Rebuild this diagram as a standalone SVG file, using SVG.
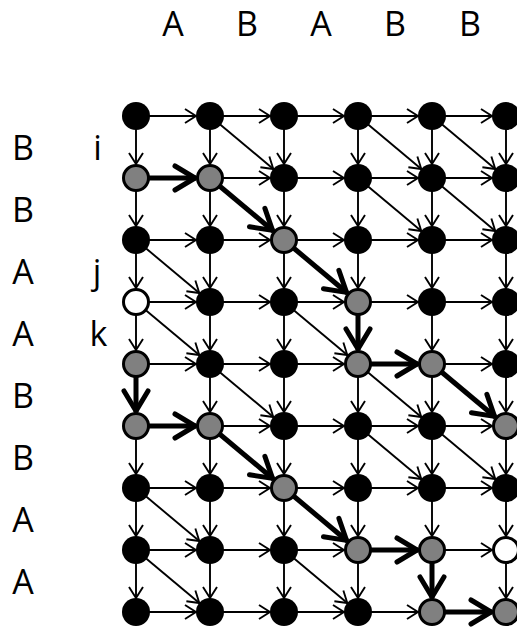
<svg xmlns="http://www.w3.org/2000/svg" width="517" height="627" viewBox="0 0 517 627">
  <style>
    .lbl { font-family: "Open Sans", "Liberation Sans", sans-serif; font-size: 34px; fill: #000; text-anchor: middle; }
    .e { stroke: #000; stroke-width: 1.9; fill: none; marker-end: url(#thin); }
    .h { stroke: #000; stroke-width: 5; fill: none; marker-end: url(#thick); }
    .nb { fill: #000; }
    .ng { fill: #808080; stroke: #000; stroke-width: 3; }
    .nw { fill: #fff; stroke: #000; stroke-width: 3; }
  </style>
  <defs>
    <marker id="thin" markerUnits="userSpaceOnUse" markerWidth="30" markerHeight="30" viewBox="-15 -15 30 30" refX="0" refY="0" orient="auto" overflow="visible">
      <path d="M-11,-7 L0,0 L-11,7" fill="none" stroke="#000" stroke-width="1.9"/>
    </marker>
    <marker id="thick" markerUnits="userSpaceOnUse" markerWidth="60" markerHeight="60" viewBox="-30 -30 60 60" refX="0" refY="0" orient="auto" overflow="visible">
      <path d="M-21,-12 L-1,0 L-21,12" fill="none" stroke="#000" stroke-width="5" stroke-linejoin="round" stroke-linecap="round"/>
    </marker>
  </defs>

  <!-- sequence labels -->
  <g id="labels">
    <text class="lbl" x="173" y="36">A</text>
    <text class="lbl" x="247" y="36">B</text>
    <text class="lbl" x="321" y="36">A</text>
    <text class="lbl" x="395" y="36">B</text>
    <text class="lbl" x="470" y="36">B</text>
    <text class="lbl" x="23" y="160">B</text>
    <text class="lbl" x="23" y="222">B</text>
    <text class="lbl" x="23" y="284">A</text>
    <text class="lbl" x="23" y="346">A</text>
    <text class="lbl" x="23" y="408">B</text>
    <text class="lbl" x="23" y="470">B</text>
    <text class="lbl" x="23" y="532">A</text>
    <text class="lbl" x="23" y="594">A</text>
    <text class="lbl" x="97.5" y="160">i</text>
    <text class="lbl" x="97" y="284">j</text>
    <text class="lbl" x="98.5" y="346">k</text>
  </g>

  <g id="connectors">
    <!-- horizontal edges -->
    <line class="e" x1="136" y1="116" x2="196" y2="116"/>
    <line class="e" x1="210" y1="116" x2="270" y2="116"/>
    <line class="e" x1="284" y1="116" x2="344" y2="116"/>
    <line class="e" x1="358" y1="116" x2="418" y2="116"/>
    <line class="e" x1="432" y1="116" x2="492" y2="116"/>

    <line class="e" x1="210" y1="178" x2="270" y2="178"/>
    <line class="e" x1="284" y1="178" x2="344" y2="178"/>
    <line class="e" x1="358" y1="178" x2="418" y2="178"/>
    <line class="e" x1="432" y1="178" x2="492" y2="178"/>

    <line class="e" x1="136" y1="240" x2="196" y2="240"/>
    <line class="e" x1="210" y1="240" x2="270" y2="240"/>
    <line class="e" x1="284" y1="240" x2="344" y2="240"/>
    <line class="e" x1="358" y1="240" x2="418" y2="240"/>
    <line class="e" x1="432" y1="240" x2="492" y2="240"/>

    <line class="e" x1="136" y1="302" x2="196" y2="302"/>
    <line class="e" x1="210" y1="302" x2="270" y2="302"/>
    <line class="e" x1="284" y1="302" x2="344" y2="302"/>
    <line class="e" x1="358" y1="302" x2="418" y2="302"/>
    <line class="e" x1="432" y1="302" x2="492" y2="302"/>

    <line class="e" x1="136" y1="364" x2="196" y2="364"/>
    <line class="e" x1="210" y1="364" x2="270" y2="364"/>
    <line class="e" x1="284" y1="364" x2="344" y2="364"/>
    <line class="e" x1="432" y1="364" x2="492" y2="364"/>

    <line class="e" x1="210" y1="426" x2="270" y2="426"/>
    <line class="e" x1="284" y1="426" x2="344" y2="426"/>
    <line class="e" x1="358" y1="426" x2="418" y2="426"/>
    <line class="e" x1="432" y1="426" x2="492" y2="426"/>

    <line class="e" x1="136" y1="488" x2="196" y2="488"/>
    <line class="e" x1="210" y1="488" x2="270" y2="488"/>
    <line class="e" x1="284" y1="488" x2="344" y2="488"/>
    <line class="e" x1="358" y1="488" x2="418" y2="488"/>
    <line class="e" x1="432" y1="488" x2="492" y2="488"/>

    <line class="e" x1="136" y1="550" x2="196" y2="550"/>
    <line class="e" x1="210" y1="550" x2="270" y2="550"/>
    <line class="e" x1="284" y1="550" x2="344" y2="550"/>
    <line class="e" x1="432" y1="550" x2="492" y2="550"/>

    <line class="e" x1="136" y1="612" x2="196" y2="612"/>
    <line class="e" x1="210" y1="612" x2="270" y2="612"/>
    <line class="e" x1="284" y1="612" x2="344" y2="612"/>
    <line class="e" x1="358" y1="612" x2="418" y2="612"/>

    <!-- vertical edges -->
    <line class="e" x1="136" y1="116" x2="136" y2="164"/>
    <line class="e" x1="136" y1="178" x2="136" y2="226"/>
    <line class="e" x1="136" y1="240" x2="136" y2="288"/>
    <line class="e" x1="136" y1="302" x2="136" y2="350"/>
    <line class="e" x1="136" y1="426" x2="136" y2="474"/>
    <line class="e" x1="136" y1="488" x2="136" y2="536"/>
    <line class="e" x1="136" y1="550" x2="136" y2="598"/>

    <line class="e" x1="210" y1="116" x2="210" y2="164"/>
    <line class="e" x1="210" y1="178" x2="210" y2="226"/>
    <line class="e" x1="210" y1="240" x2="210" y2="288"/>
    <line class="e" x1="210" y1="302" x2="210" y2="350"/>
    <line class="e" x1="210" y1="364" x2="210" y2="412"/>
    <line class="e" x1="210" y1="426" x2="210" y2="474"/>
    <line class="e" x1="210" y1="488" x2="210" y2="536"/>
    <line class="e" x1="210" y1="550" x2="210" y2="598"/>

    <line class="e" x1="284" y1="116" x2="284" y2="164"/>
    <line class="e" x1="284" y1="178" x2="284" y2="226"/>
    <line class="e" x1="284" y1="240" x2="284" y2="288"/>
    <line class="e" x1="284" y1="302" x2="284" y2="350"/>
    <line class="e" x1="284" y1="364" x2="284" y2="412"/>
    <line class="e" x1="284" y1="426" x2="284" y2="474"/>
    <line class="e" x1="284" y1="488" x2="284" y2="536"/>
    <line class="e" x1="284" y1="550" x2="284" y2="598"/>

    <line class="e" x1="358" y1="116" x2="358" y2="164"/>
    <line class="e" x1="358" y1="178" x2="358" y2="226"/>
    <line class="e" x1="358" y1="240" x2="358" y2="288"/>
    <line class="e" x1="358" y1="364" x2="358" y2="412"/>
    <line class="e" x1="358" y1="426" x2="358" y2="474"/>
    <line class="e" x1="358" y1="488" x2="358" y2="536"/>
    <line class="e" x1="358" y1="550" x2="358" y2="598"/>

    <line class="e" x1="432" y1="116" x2="432" y2="164"/>
    <line class="e" x1="432" y1="178" x2="432" y2="226"/>
    <line class="e" x1="432" y1="240" x2="432" y2="288"/>
    <line class="e" x1="432" y1="302" x2="432" y2="350"/>
    <line class="e" x1="432" y1="364" x2="432" y2="412"/>
    <line class="e" x1="432" y1="426" x2="432" y2="474"/>
    <line class="e" x1="432" y1="488" x2="432" y2="536"/>

    <line class="e" x1="506" y1="116" x2="506" y2="164"/>
    <line class="e" x1="506" y1="178" x2="506" y2="226"/>
    <line class="e" x1="506" y1="240" x2="506" y2="288"/>
    <line class="e" x1="506" y1="302" x2="506" y2="350"/>
    <line class="e" x1="506" y1="364" x2="506" y2="412"/>
    <line class="e" x1="506" y1="426" x2="506" y2="474"/>
    <line class="e" x1="506" y1="488" x2="506" y2="536"/>
    <line class="e" x1="506" y1="550" x2="506" y2="598"/>

    <!-- diagonal (match) edges -->
    <line class="e" x1="210" y1="116" x2="273.3" y2="169"/>
    <line class="e" x1="358" y1="116" x2="421.3" y2="169"/>
    <line class="e" x1="432" y1="116" x2="495.3" y2="169"/>
    <line class="e" x1="358" y1="178" x2="421.3" y2="231"/>
    <line class="e" x1="432" y1="178" x2="495.3" y2="231"/>
    <line class="e" x1="136" y1="240" x2="199.3" y2="293"/>
    <line class="e" x1="136" y1="302" x2="199.3" y2="355"/>
    <line class="e" x1="284" y1="302" x2="347.3" y2="355"/>
    <line class="e" x1="210" y1="364" x2="273.3" y2="417"/>
    <line class="e" x1="358" y1="364" x2="421.3" y2="417"/>
    <line class="e" x1="358" y1="426" x2="421.3" y2="479"/>
    <line class="e" x1="432" y1="426" x2="495.3" y2="479"/>
    <line class="e" x1="136" y1="488" x2="199.3" y2="541"/>
    <line class="e" x1="136" y1="550" x2="199.3" y2="603"/>
    <line class="e" x1="284" y1="550" x2="347.3" y2="603"/>

    <!-- highlighted paths -->
    <line class="h" x1="136" y1="178" x2="196" y2="178"/>
    <line class="h" x1="210" y1="178" x2="273.3" y2="231"/>
    <line class="h" x1="284" y1="240" x2="347.3" y2="293"/>
    <line class="h" x1="358" y1="302" x2="358" y2="350"/>
    <line class="h" x1="358" y1="364" x2="418" y2="364"/>
    <line class="h" x1="432" y1="364" x2="495.3" y2="417"/>

    <line class="h" x1="136" y1="364" x2="136" y2="412"/>
    <line class="h" x1="136" y1="426" x2="196" y2="426"/>
    <line class="h" x1="210" y1="426" x2="273.3" y2="479"/>
    <line class="h" x1="284" y1="488" x2="347.3" y2="541"/>
    <line class="h" x1="358" y1="550" x2="418" y2="550"/>
    <line class="h" x1="432" y1="550" x2="432" y2="598"/>
    <line class="h" x1="432" y1="612" x2="492" y2="612"/>
  </g>

  <!-- grid nodes, row by row -->
  <g id="row0">
    <circle id="n0-0" class="nb" cx="136" cy="116" r="14"/>
    <circle id="n0-1" class="nb" cx="210" cy="116" r="14"/>
    <circle id="n0-2" class="nb" cx="284" cy="116" r="14"/>
    <circle id="n0-3" class="nb" cx="358" cy="116" r="14"/>
    <circle id="n0-4" class="nb" cx="432" cy="116" r="14"/>
    <circle id="n0-5" class="nb" cx="506" cy="116" r="14"/>
  </g>
  <g id="row1">
    <circle id="n1-0" class="ng" cx="136" cy="178" r="12.5"/>
    <circle id="n1-1" class="ng" cx="210" cy="178" r="12.5"/>
    <circle id="n1-2" class="nb" cx="284" cy="178" r="14"/>
    <circle id="n1-3" class="nb" cx="358" cy="178" r="14"/>
    <circle id="n1-4" class="nb" cx="432" cy="178" r="14"/>
    <circle id="n1-5" class="nb" cx="506" cy="178" r="14"/>
  </g>
  <g id="row2">
    <circle id="n2-0" class="nb" cx="136" cy="240" r="14"/>
    <circle id="n2-1" class="nb" cx="210" cy="240" r="14"/>
    <circle id="n2-2" class="ng" cx="284" cy="240" r="12.5"/>
    <circle id="n2-3" class="nb" cx="358" cy="240" r="14"/>
    <circle id="n2-4" class="nb" cx="432" cy="240" r="14"/>
    <circle id="n2-5" class="nb" cx="506" cy="240" r="14"/>
  </g>
  <g id="row3">
    <circle id="n3-0" class="nw" cx="136" cy="302" r="12.5"/>
    <circle id="n3-1" class="nb" cx="210" cy="302" r="14"/>
    <circle id="n3-2" class="nb" cx="284" cy="302" r="14"/>
    <circle id="n3-3" class="ng" cx="358" cy="302" r="12.5"/>
    <circle id="n3-4" class="nb" cx="432" cy="302" r="14"/>
    <circle id="n3-5" class="nb" cx="506" cy="302" r="14"/>
  </g>
  <g id="row4">
    <circle id="n4-0" class="ng" cx="136" cy="364" r="12.5"/>
    <circle id="n4-1" class="nb" cx="210" cy="364" r="14"/>
    <circle id="n4-2" class="nb" cx="284" cy="364" r="14"/>
    <circle id="n4-3" class="ng" cx="358" cy="364" r="12.5"/>
    <circle id="n4-4" class="ng" cx="432" cy="364" r="12.5"/>
    <circle id="n4-5" class="nb" cx="506" cy="364" r="14"/>
  </g>
  <g id="row5">
    <circle id="n5-0" class="ng" cx="136" cy="426" r="12.5"/>
    <circle id="n5-1" class="ng" cx="210" cy="426" r="12.5"/>
    <circle id="n5-2" class="nb" cx="284" cy="426" r="14"/>
    <circle id="n5-3" class="nb" cx="358" cy="426" r="14"/>
    <circle id="n5-4" class="nb" cx="432" cy="426" r="14"/>
    <circle id="n5-5" class="ng" cx="506" cy="426" r="12.5"/>
  </g>
  <g id="row6">
    <circle id="n6-0" class="nb" cx="136" cy="488" r="14"/>
    <circle id="n6-1" class="nb" cx="210" cy="488" r="14"/>
    <circle id="n6-2" class="ng" cx="284" cy="488" r="12.5"/>
    <circle id="n6-3" class="nb" cx="358" cy="488" r="14"/>
    <circle id="n6-4" class="nb" cx="432" cy="488" r="14"/>
    <circle id="n6-5" class="nb" cx="506" cy="488" r="14"/>
  </g>
  <g id="row7">
    <circle id="n7-0" class="nb" cx="136" cy="550" r="14"/>
    <circle id="n7-1" class="nb" cx="210" cy="550" r="14"/>
    <circle id="n7-2" class="nb" cx="284" cy="550" r="14"/>
    <circle id="n7-3" class="ng" cx="358" cy="550" r="12.5"/>
    <circle id="n7-4" class="ng" cx="432" cy="550" r="12.5"/>
    <circle id="n7-5" class="nw" cx="506" cy="550" r="12.5"/>
  </g>
  <g id="row8">
    <circle id="n8-0" class="nb" cx="136" cy="612" r="14"/>
    <circle id="n8-1" class="nb" cx="210" cy="612" r="14"/>
    <circle id="n8-2" class="nb" cx="284" cy="612" r="14"/>
    <circle id="n8-3" class="nb" cx="358" cy="612" r="14"/>
    <circle id="n8-4" class="ng" cx="432" cy="612" r="12.5"/>
    <circle id="n8-5" class="ng" cx="506" cy="612" r="12.5"/>
  </g>
</svg>
